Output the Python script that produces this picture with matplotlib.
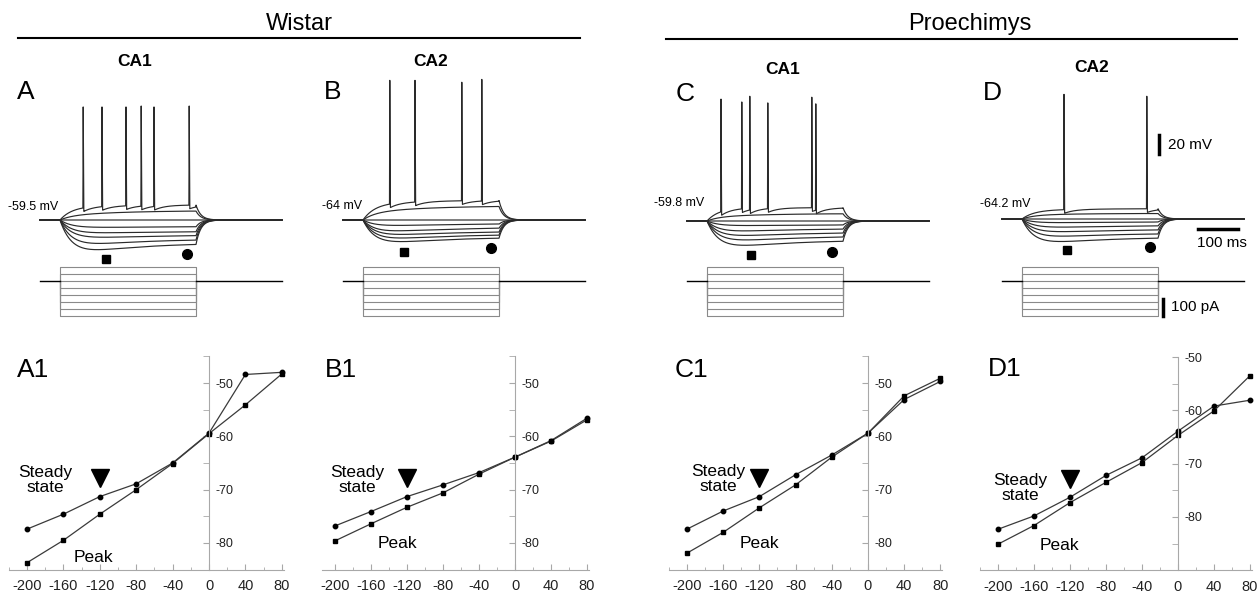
import numpy as np
import matplotlib
matplotlib.use("Agg")
import matplotlib.pyplot as plt
from matplotlib.lines import Line2D
from matplotlib.ticker import MultipleLocator

plt.rcParams["font.family"] = ["Liberation Sans", "DejaVu Sans"]
plt.rcParams["axes.unicode_minus"] = False

W, H = 1259, 596

# ---------------- data ----------------
currents = [-200, -160, -120, -80, -40, 0, 40, 80]          # pA, injected steps
iv_x = [-200, -160, -120, -80, -40, 0, 40, 80]

# I-V curves (mV)
A1_steady = [-77.4, -74.6, -71.3, -68.9, -65.0, -59.4, -48.4, -48.0]
A1_peak = [-83.7, -79.5, -74.6, -70.0, -65.1, -59.5, -54.1, -48.3]
B1_steady = [-76.8, -74.1, -71.3, -69.1, -66.8, -63.9, -60.8, -56.6]
B1_peak = [-79.6, -76.4, -73.3, -70.6, -67.1, -63.9, -60.9, -56.9]
C1_steady = [-77.4, -74.0, -71.3, -67.2, -63.5, -59.4, -53.1, -49.7]
C1_peak = [-81.9, -78.0, -73.4, -69.1, -63.9, -59.4, -52.4, -49.1]
D1_steady = [-82.3, -79.8, -76.3, -72.2, -68.9, -63.9, -59.2, -58.1]
D1_peak = [-85.1, -81.6, -77.3, -73.5, -69.8, -64.7, -60.1, -53.5]

# voltage traces: deflection from rest (mV) at the early peak and at the end of the step
rest_mV = [-59.5, -64.0, -59.8, -64.2]
A_peak = [-33, -26, -19, -14, -8, 0, 7, 15]
A_steady = [-24, -20, -16, -12, -7, 0, 10, 16]
B_peak = [-24, -20, -16, -12, -6, 0, 11, 19]
B_steady = [-18, -15, -12, -8, -4, 0, 15, 21]
C_peak = [-27, -21, -16, -11, -5, 0, 6, 14]
C_steady = [-20, -16, -12, -8, -4, 0, 8, 14]
D_peak = [-25, -19, -14, -9, -4, 0, 5, 10]
D_steady = [-19, -15, -11, -7, -3, 0, 6, 11]

# spikes of the strongest depolarizing sweep: times (ms from step onset), peaks (mV)
A_spikes = [58, 105, 165, 203, 235, 323]
A_tops = [59.5, 59.5, 59.5, 60.5, 59.5, 60.5]
B_spikes = [67, 130, 247, 297]
B_tops = [83.0, 83.0, 81.0, 84.0]
C_spikes = [35, 87, 107, 152, 262, 272]
C_tops = [68.5, 65.5, 71.5, 64.5, 70.5, 63.5]
D_spikes = [105, 312]
D_tops = [67.0, 65.0]

STEP_MS = 340
t = np.round(np.arange(-50, 555.05, 0.1), 1)

fig = plt.figure(figsize=(W / 100, H / 100), dpi=100)


def rect(x0, y0, x1, y1):
    return [x0 / W, 1 - y1 / H, (x1 - x0) / W, (y1 - y0) / H]


def ftext(x, y, s, **kw):
    fig.text(x / W, 1 - y / H, s, **kw)


def membrane(pk, ss):
    d = np.zeros_like(t)
    on = (t >= 0) & (t <= STEP_MS)
    tt = t[on]
    grid = np.linspace(0, 400, 4001)
    bmax = np.max(np.exp(-grid / 150) - np.exp(-grid / 30))
    bump = (np.exp(-tt / 150) - np.exp(-tt / 30)) / bmax
    d[on] = ss * (1 - np.exp(-tt / 30)) + (pk - ss) * bump
    off = t > STEP_MS
    d[off] = d[on][-1] * np.exp(-(t[off] - STEP_MS) / 12)
    return d


# ---------------- titles ----------------
ftext(299, 24, "Wistar", fontsize=17, ha="center", va="center")
ftext(970, 24, "Proechimys", fontsize=17, ha="center", va="center")
fig.add_artist(Line2D([18 / W, 580 / W], [1 - 38 / H] * 2, color="black", lw=1.5))
fig.add_artist(Line2D([666 / W, 1237 / W], [1 - 39 / H] * 2, color="black", lw=1.5))

# ---------------- traces ----------------
trace_panels = [
    ("A", "CA1", 60, 220, A_peak, A_steady, A_spikes, A_tops, (26, 92), (135, 62), (58, 207),
     "-59.5 mV", (115, 41, 317.5, 36)),
    ("B", "CA2", 363, 220, B_peak, B_steady, B_spikes, B_tops, (333, 92), (431, 62), (362, 206),
     "-64 mV", (102.5, 34, 320, 29.5)),
    ("C", "CA1", 707, 221, C_peak, C_steady, C_spikes, C_tops, (685, 94), (783, 70), (704, 203),
     "-59.8 mV", (110, 36, 312.5, 32.5)),
    ("D", "CA2", 1022, 219, D_peak, D_steady, D_spikes, D_tops, (992, 93), (1092, 68), (1031, 204),
     "-64.2 mV", (112.5, 32.5, 320, 29.5)),
]

MS_PX, MV_PX, PA_PX = 0.4, 0.95, 0.175

for k, (letter, region, on_px, base_px, pks, sss, spikes, tops, let_xy, reg_xy, lab_xy, lab,
        marks) in enumerate(trace_panels):
    rest = rest_mV[k]
    ax = fig.add_axes(rect(on_px - 25, 70, on_px + 238, 262))
    ax.set_xlim(-25 / MS_PX, 238 / MS_PX)
    ax.set_ylim(rest - (262 - base_px) / MV_PX, rest + (base_px - 70) / MV_PX)
    ax.axis("off")

    for i, (pk, ss) in enumerate(zip(pks, sss)):
        v = rest + membrane(pk, ss)
        if i == len(pks) - 1:
            for ts in spikes:
                after = (t > ts) & (t <= STEP_MS)
                v[after] -= 4 * np.exp(-(t[after] - ts) / 25)
            for ts, top in zip(spikes, tops):
                w = np.where(t < ts, 0.8, 1.6)
                kern = np.clip(1 - np.abs(t - ts) / w, 0, 1)
                v = v + (top - v) * kern
        ax.plot(t, v, color="#2a2a2a", lw=0.85, clip_on=False)

    ax.plot(marks[0], rest - marks[1], "s", color="black", ms=6, clip_on=False)
    ax.plot(marks[2], rest - marks[3], "o", color="black", ms=7, clip_on=False)

    # current steps
    axi = fig.add_axes(rect(on_px - 25, 262, on_px + 238, 322))
    axi.set_xlim(-25 / MS_PX, 238 / MS_PX)
    axi.set_ylim(-(322 - 281) / PA_PX, (281 - 262) / PA_PX)
    axi.axis("off")
    for cur in currents:
        axi.plot([0, 0, STEP_MS, STEP_MS], [0, cur, cur, 0], color="#8a8a8a", lw=0.8, clip_on=False)
    axi.plot([t[0], 0], [0, 0], color="black", lw=1.0, clip_on=False)
    axi.plot([STEP_MS, t[-1]], [0, 0], color="black", lw=1.0, clip_on=False)

    ftext(let_xy[0], let_xy[1], letter, fontsize=19, ha="center", va="center")
    ftext(reg_xy[0], reg_xy[1], region, fontsize=12.5, fontweight="bold", ha="center", va="center")
    ftext(lab_xy[0], lab_xy[1], lab, fontsize=9, ha="right", va="center")

    if letter == "D":
        ax.plot([342.5, 342.5], [4.2, 24.2], color="black", lw=2.5, clip_on=False)
        ax.plot([440, 540], [-74.7, -74.7], color="black", lw=2.5, clip_on=False)
        axi.plot([352, 352], [-200, -100], color="black", lw=2.5, clip_on=False)
        ftext(1168, 145, "20 mV", fontsize=11, ha="left", va="center")
        ftext(1222, 243, "100 ms", fontsize=11, ha="center", va="center")
        ftext(1171, 307, "100 pA", fontsize=11, ha="left", va="center")

# ---------------- I-V plots ----------------
iv_panels = [
    ("A1", A1_steady, A1_peak, 209, 0.91, 383, (-220, 82), (-85, -45), (33, 370), (45, 480), (93, 558)),
    ("B1", B1_steady, B1_peak, 515, 0.90, 383, (-214, 82), (-85, -45), (341, 370), (357, 480), (397, 544)),
    ("C1", C1_steady, C1_peak, 868, 0.905, 383, (-220, 82), (-85, -45), (691, 370), (718, 479), (759, 543)),
    ("D1", D1_steady, D1_peak, 1178, 0.90, 357, (-220, 82), (-90, -50), (1005, 369), (1020, 488), (1059, 545)),
]
SY = 5.333

for name, steady, peak, x0px, sx, y50px, xlim, ylim, let_xy, ss_xy, pk_xy in iv_panels:
    left = x0px + xlim[0] * sx
    right = x0px + xlim[1] * sx
    top = y50px - (ylim[1] + 50) * SY
    bottom = y50px - (ylim[0] + 50) * SY
    ax = fig.add_axes(rect(left, top, right, bottom))
    ax.set_xlim(*xlim)
    ax.set_ylim(*ylim)
    ax.patch.set_visible(False)

    ax.plot(iv_x, steady, color="#3a3a3a", lw=0.9, marker="o", ms=3.2,
            mfc="black", mec="black", clip_on=False)
    ax.plot(iv_x, peak, color="#3a3a3a", lw=0.9, marker="s", ms=3.2,
            mfc="black", mec="black", clip_on=False)
    ax.plot(-120, steady[2] + 3.5, "v", color="black", ms=13, clip_on=False)

    for s in ["top", "left"]:
        ax.spines[s].set_visible(False)
    ax.spines["right"].set_position(("data", 0))
    for s in ["right", "bottom"]:
        ax.spines[s].set_color("#a8a8a8")
        ax.spines[s].set_linewidth(0.8)
    ax.yaxis.tick_right()
    ax.set_xticks([-200, -160, -120, -80, -40, 0, 40, 80])
    ax.xaxis.set_minor_locator(MultipleLocator(20))
    ax.set_yticks([-80, -70, -60, -50])
    ax.yaxis.set_minor_locator(MultipleLocator(5))
    ax.tick_params(axis="x", which="both", direction="in", colors="#a8a8a8",
                   labelcolor="#222222", labelsize=10.5, pad=7)
    ax.tick_params(axis="x", which="major", length=4)
    ax.tick_params(axis="x", which="minor", length=2.5)
    ax.tick_params(axis="y", which="both", direction="in", colors="#a8a8a8",
                   labelcolor="#222222", labelsize=9, pad=5)
    ax.tick_params(axis="y", which="major", length=4)
    ax.tick_params(axis="y", which="minor", length=4)

    ftext(let_xy[0], let_xy[1], name, fontsize=19, ha="center", va="center")
    ftext(ss_xy[0], ss_xy[1], "Steady\nstate", fontsize=12.5, ha="center", va="center",
          linespacing=1.0)
    ftext(pk_xy[0], pk_xy[1], "Peak", fontsize=12.5, ha="center", va="center")

fig.savefig("out.png", dpi=100)
